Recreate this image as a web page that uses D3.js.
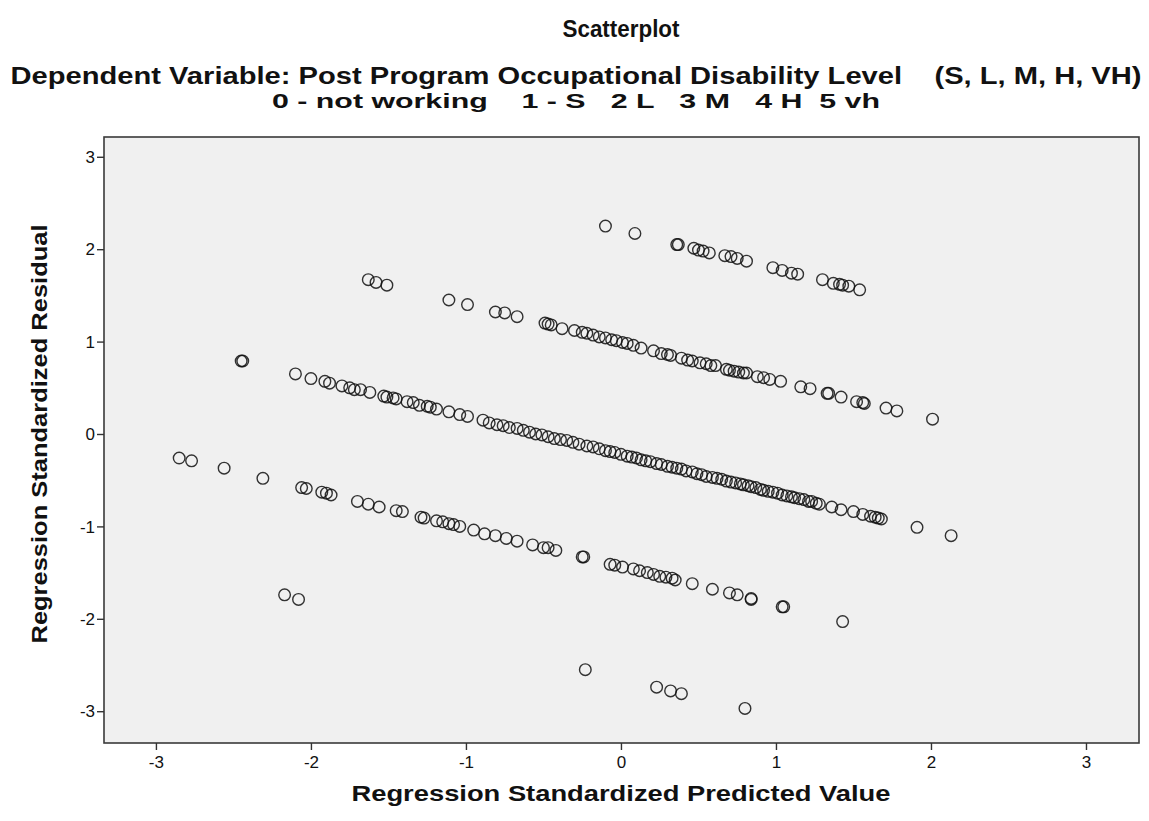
<!DOCTYPE html>
<html><head><meta charset="utf-8">
<script src="https://cdn.jsdelivr.net/npm/d3@7"></script>
<style>body{margin:0;background:#fff;} text{font-family:"Liberation Sans",Arial,sans-serif;} .tick text{font-size:17px;}</style>
</head><body><svg id="c" width="1149" height="821"></svg>
<script>
const titleText = "Scatterplot";
const subtitle1 = "Dependent Variable: Post Program Occupational Disability Level    (S, L, M, H, VH)";
const subtitle2 = "0 - not working    1 - S   2 L   3 M   4 H  5 vh";
const xLabel = "Regression Standardized Predicted Value";
const yLabel = "Regression Standardized Residual";
const xTicks = [-3, -2, -1, 0, 1, 2, 3];
const yTicks = [-3, -2, -1, 0, 1, 2, 3];

const band1 = [[-0.10,2.25],[0.09,2.17],[0.36,2.05],[0.37,2.05],[0.47,2.01],[0.50,1.99],[0.53,1.98],[0.57,1.96],[0.67,1.93],[0.71,1.92],[0.75,1.90],[0.81,1.87],[0.98,1.80],[1.04,1.77],[1.10,1.74],[1.14,1.73],[1.30,1.67],[1.37,1.63],[1.41,1.62],[1.43,1.61],[1.47,1.60],[1.54,1.56]];
const band2 = [[-1.63,1.67],[-1.58,1.64],[-1.51,1.61],[-1.11,1.45],[-0.99,1.40],[-0.81,1.32],[-0.75,1.31],[-0.67,1.27],[-0.49,1.20],[-0.47,1.19],[-0.45,1.18],[-0.38,1.14],[-0.30,1.12],[-0.25,1.10],[-0.22,1.09],[-0.18,1.07],[-0.14,1.05],[-0.10,1.04],[-0.06,1.02],[-0.03,1.01],[0.01,0.99],[0.04,0.98],[0.08,0.96],[0.13,0.93],[0.21,0.90],[0.26,0.87],[0.30,0.86],[0.32,0.85],[0.39,0.82],[0.43,0.80],[0.46,0.79],[0.51,0.77],[0.55,0.76],[0.58,0.74],[0.61,0.74],[0.68,0.70],[0.70,0.69],[0.73,0.68],[0.76,0.67],[0.79,0.66],[0.81,0.66],[0.88,0.62],[0.92,0.61],[0.96,0.59],[1.03,0.57],[1.16,0.51],[1.22,0.49],[1.33,0.44],[1.34,0.44],[1.42,0.40],[1.52,0.35],[1.56,0.34],[1.57,0.33],[1.71,0.28],[1.78,0.25],[2.01,0.16]];
const band3 = [[-2.45,0.79],[-2.44,0.79],[-2.10,0.65],[-2.00,0.60],[-1.91,0.57],[-1.88,0.55],[-1.80,0.52],[-1.75,0.50],[-1.72,0.48],[-1.68,0.48],[-1.62,0.45],[-1.53,0.41],[-1.51,0.40],[-1.47,0.39],[-1.45,0.38],[-1.38,0.35],[-1.34,0.34],[-1.30,0.31],[-1.25,0.30],[-1.23,0.29],[-1.19,0.27],[-1.11,0.24],[-1.04,0.21],[-0.99,0.19],[-0.89,0.15],[-0.85,0.12],[-0.80,0.10],[-0.76,0.09],[-0.72,0.07],[-0.67,0.06],[-0.63,0.04],[-0.59,0.02],[-0.55,0.00],[-0.51,-0.01],[-0.47,-0.03],[-0.43,-0.05],[-0.39,-0.06],[-0.35,-0.07],[-0.31,-0.09],[-0.27,-0.11],[-0.22,-0.13],[-0.18,-0.14],[-0.14,-0.16],[-0.10,-0.18],[-0.07,-0.19],[-0.04,-0.20],[0.00,-0.22],[0.04,-0.24],[0.07,-0.25],[0.10,-0.26],[0.13,-0.28],[0.16,-0.29],[0.19,-0.30],[0.23,-0.32],[0.26,-0.33],[0.30,-0.35],[0.33,-0.36],[0.36,-0.37],[0.39,-0.38],[0.42,-0.40],[0.46,-0.41],[0.49,-0.43],[0.52,-0.44],[0.55,-0.46],[0.59,-0.47],[0.62,-0.48],[0.65,-0.49],[0.68,-0.51],[0.71,-0.52],[0.74,-0.53],[0.77,-0.54],[0.79,-0.55],[0.82,-0.56],[0.84,-0.57],[0.87,-0.58],[0.90,-0.60],[0.92,-0.61],[0.95,-0.62],[0.98,-0.63],[1.01,-0.64],[1.04,-0.66],[1.07,-0.67],[1.10,-0.68],[1.12,-0.69],[1.15,-0.70],[1.18,-0.71],[1.21,-0.73],[1.23,-0.73],[1.26,-0.75],[1.28,-0.76],[1.36,-0.79],[1.42,-0.82],[1.50,-0.84],[1.56,-0.87],[1.61,-0.89],[1.64,-0.90],[1.66,-0.91],[1.68,-0.92],[1.91,-1.01],[2.13,-1.10]];
const band4 = [[-2.85,-0.26],[-2.77,-0.29],[-2.56,-0.37],[-2.31,-0.48],[-2.06,-0.58],[-2.03,-0.59],[-1.93,-0.63],[-1.90,-0.64],[-1.87,-0.66],[-1.70,-0.73],[-1.63,-0.76],[-1.56,-0.79],[-1.45,-0.83],[-1.41,-0.84],[-1.29,-0.90],[-1.27,-0.91],[-1.19,-0.94],[-1.15,-0.95],[-1.11,-0.97],[-1.08,-0.98],[-1.04,-1.00],[-0.95,-1.04],[-0.88,-1.08],[-0.81,-1.10],[-0.74,-1.13],[-0.67,-1.16],[-0.57,-1.20],[-0.50,-1.23],[-0.47,-1.23],[-0.42,-1.26],[-0.25,-1.33],[-0.24,-1.33],[-0.07,-1.41],[-0.04,-1.42],[0.01,-1.44],[0.08,-1.46],[0.12,-1.48],[0.17,-1.50],[0.21,-1.52],[0.25,-1.54],[0.29,-1.55],[0.33,-1.56],[0.35,-1.58],[0.46,-1.62],[0.59,-1.68],[0.70,-1.72],[0.75,-1.74],[0.84,-1.79],[0.84,-1.78],[1.04,-1.87],[1.05,-1.87],[1.43,-2.03]];
const band5 = [[-2.17,-1.74],[-2.08,-1.79],[-0.23,-2.55],[0.23,-2.74],[0.32,-2.78],[0.39,-2.81],[0.80,-2.97]];

const svg = d3.select("#c");
const L = 104, R = 1139, T = 137, B = 743;
const x = d3.scaleLinear().domain([-3.335, 3.342]).range([L, R]);
const y = d3.scaleLinear().domain([-3.344, 3.214]).range([B, T]);

svg.append("rect").attr("x", L).attr("y", T).attr("width", R - L).attr("height", B - T)
  .attr("fill", "#f0f0f0").attr("stroke", "none");

const pts = [].concat(band1, band2, band3, band4, band5);
svg.append("g").selectAll("circle").data(pts).join("circle")
  .attr("cx", d => x(d[0])).attr("cy", d => y(d[1])).attr("r", 5.8)
  .attr("fill", "none").attr("stroke", "#111").attr("stroke-width", 1.4).attr("stroke-opacity", 0.85);

svg.append("rect").attr("x", L).attr("y", T).attr("width", R - L).attr("height", B - T)
  .attr("fill", "none").attr("stroke", "#3a3a3a").attr("stroke-width", 1.6);

const xAxis = svg.append("g").attr("transform", `translate(0,${B})`)
  .call(d3.axisBottom(x).tickValues(xTicks).tickSize(7).tickSizeOuter(0).tickFormat(d => String(d)));
const yAxis = svg.append("g").attr("transform", `translate(${L},0)`)
  .call(d3.axisLeft(y).tickValues(yTicks).tickSize(7).tickSizeOuter(0).tickFormat(d => String(d)));
[xAxis, yAxis].forEach(a => {
  a.attr("font-size", 17).attr("font-family", "Liberation Sans, Arial, sans-serif");
  a.select(".domain").remove();
  a.selectAll(".tick line").attr("stroke", "#333").attr("stroke-width", 1.4);
  a.selectAll(".tick text").attr("font-size", 17).attr("fill", "#111");
});
xAxis.selectAll(".tick text").attr("y", 13).attr("dy", "0.71em");
yAxis.selectAll(".tick text").attr("x", -9).attr("dy", "0.34em");

function t(str, xx, yy, size, len) {
  const e = svg.append("text").attr("x", xx).attr("y", yy).attr("text-anchor", "middle")
    .attr("font-size", size).attr("font-weight", "bold").attr("fill", "#111")
    .style("white-space", "pre").text(str);
  if (len) e.attr("textLength", len).attr("lengthAdjust", "spacingAndGlyphs");
  return e;
}
t(titleText, 621, 37, 23, 117);
t(subtitle1, 576, 84, 23, 1131);
t(subtitle2, 576, 108, 21, 608);
t(xLabel, 621, 801, 22, 539);
svg.append("text").attr("transform", "translate(47,434) rotate(-90)").attr("text-anchor", "middle")
  .attr("font-size", 22).attr("font-weight", "bold").attr("fill", "#111")
  .attr("textLength", 419).attr("lengthAdjust", "spacingAndGlyphs").text(yLabel);
</script></body></html>
